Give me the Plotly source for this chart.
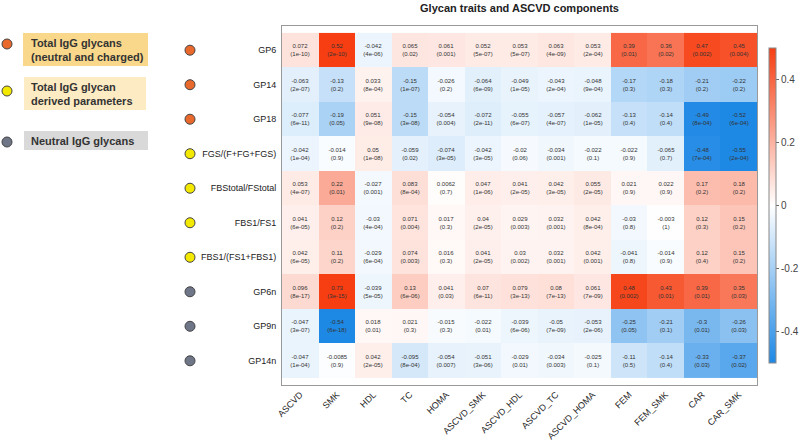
import plotly.graph_objects as go

columns = ["ASCVD", "SMK", "HDL", "TC", "HOMA", "ASCVD_SMK", "ASCVD_HDL",
           "ASCVD_TC", "ASCVD_HOMA", "FEM", "FEM_SMK", "CAR", "CAR_SMK"]
rows = ["GP6", "GP14", "GP18", "FGS/(F+FG+FGS)", "FBStotal/FStotal", "FBS1/FS1",
        "FBS1/(FS1+FBS1)", "GP6n", "GP9n", "GP14n"]
row_groups = ["total", "total", "total", "derived", "derived", "derived",
              "derived", "neutral", "neutral", "neutral"]

corr = [
    [0.072, 0.52, -0.042, 0.065, 0.061, 0.052, 0.053, 0.063, 0.053, 0.39, 0.36, 0.47, 0.45],
    [-0.063, -0.13, 0.033, -0.15, -0.026, -0.064, -0.049, -0.043, -0.048, -0.17, -0.18, -0.21, -0.22],
    [-0.077, -0.19, 0.051, -0.15, -0.054, -0.072, -0.055, -0.057, -0.062, -0.13, -0.14, -0.49, -0.52],
    [-0.042, -0.014, 0.05, -0.059, -0.074, -0.042, -0.02, -0.034, -0.022, -0.022, -0.065, -0.48, -0.55],
    [0.053, 0.22, -0.027, 0.083, 0.0062, 0.047, 0.041, 0.042, 0.055, 0.021, 0.022, 0.17, 0.18],
    [0.041, 0.12, -0.03, 0.071, 0.017, 0.04, 0.029, 0.032, 0.042, -0.03, -0.003, 0.12, 0.15],
    [0.042, 0.11, -0.029, 0.074, 0.016, 0.041, 0.03, 0.032, 0.042, -0.041, -0.014, 0.12, 0.15],
    [0.096, 0.73, -0.039, 0.13, 0.041, 0.07, 0.079, 0.08, 0.061, 0.48, 0.43, 0.39, 0.35],
    [-0.047, -0.54, 0.018, 0.021, -0.015, -0.022, -0.039, -0.05, -0.053, -0.25, -0.21, -0.3, -0.26],
    [-0.047, -0.0085, 0.042, -0.095, -0.054, -0.051, -0.029, -0.034, -0.025, -0.11, -0.14, -0.33, -0.37],
]
pvals = [
    ["1e-10", "2e-10", "4e-06", "0.02", "0.001", "5e-07", "5e-07", "4e-09", "2e-04", "0.01", "0.02", "0.002", "0.004"],
    ["2e-07", "0.2", "8e-04", "1e-07", "0.2", "6e-09", "1e-05", "2e-04", "9e-04", "0.3", "0.3", "0.2", "0.2"],
    ["6e-11", "0.05", "9e-08", "3e-08", "0.004", "2e-11", "6e-07", "4e-07", "1e-05", "0.4", "0.4", "8e-04", "6e-04"],
    ["1e-04", "0.9", "1e-08", "0.02", "3e-05", "3e-05", "0.06", "0.001", "0.1", "0.9", "0.7", "7e-04", "2e-04"],
    ["4e-07", "0.01", "0.001", "8e-04", "0.7", "1e-06", "2e-05", "3e-05", "2e-05", "0.9", "0.9", "0.2", "0.2"],
    ["6e-05", "0.2", "4e-04", "0.004", "0.3", "2e-05", "0.003", "0.001", "8e-04", "0.8", "1", "0.3", "0.2"],
    ["6e-05", "0.2", "6e-04", "0.003", "0.3", "2e-05", "0.002", "0.001", "0.001", "0.8", "0.9", "0.4", "0.2"],
    ["8e-17", "3e-15", "5e-05", "6e-06", "0.03", "6e-11", "3e-13", "7e-13", "7e-09", "0.002", "0.01", "0.01", "0.03"],
    ["3e-07", "6e-18", "0.01", "0.3", "0.3", "0.01", "6e-06", "7e-09", "2e-06", "0.05", "0.1", "0.01", "0.03"],
    ["1e-04", "0.9", "2e-05", "8e-04", "0.007", "3e-06", "0.01", "0.003", "0.1", "0.5", "0.4", "0.03", "0.02"],
]
colorbar_ticks = [-0.4, -0.2, 0, 0.2, 0.4]
legend_labels = ["Total IgG glycans<br>(neutral and charged)",
                 "Total IgG glycan<br>derived parameters",
                 "Neutral IgG glycans"]

W, H = 800, 447
def px(x): return x / W
def py(y): return 1 - y / H

group_color = {"total": "#E9682B", "derived": "#F3E800", "neutral": "#6F7687"}

cell_text = [[f"{v:g}<br>({p})" for v, p in zip(rv, rp)] for rv, rp in zip(corr, pvals)]

fig = go.Figure()
fig.add_trace(go.Heatmap(
    z=corr, x=columns, y=rows, text=cell_text, texttemplate="%{text}",
    textfont=dict(size=6, color="#333333", family="Liberation Sans"),
    zmin=-0.5, zmax=0.5,
    colorscale=[[0, "rgb(30,136,229)"], [0.5, "rgb(255,255,255)"], [1, "rgb(246,62,18)"]],
    xgap=0, ygap=0,
    colorbar=dict(x=px(769), xanchor="left", xpad=0, ypad=0, thickness=7, lenmode="pixels", len=315,
                  y=py(205.5), yanchor="middle", tickvals=colorbar_ticks,
                  ticktext=["-0.4", "-0.2", "0", "0.2", "0.4"],
                  ticks="outside", ticklen=3, tickcolor="#666",
                  tickfont=dict(size=10, color="#444", family="Liberation Sans"),
                  outlinewidth=1, outlinecolor="#888"),
))

fig.add_trace(go.Scatter(
    x=[0] * len(rows), y=rows, mode="markers", xaxis="x2", yaxis="y",
    marker=dict(size=10, color=[group_color[g] for g in row_groups],
                line=dict(color="#444", width=1)),
    hoverinfo="skip", showlegend=False,
))

fig.update_layout(
    width=W, height=H, margin=dict(l=0, r=0, t=0, b=0, autoexpand=False),
    paper_bgcolor="white", plot_bgcolor="white", showlegend=False,
    title=dict(text="<b>Glycan traits and ASCVD components</b>", x=px(519.5), xanchor="center",
               y=py(8), yanchor="middle", font=dict(size=11, color="#222", family="Liberation Sans")),
    xaxis=dict(domain=[px(282), px(757)], tickangle=-45, showgrid=False, zeroline=False,
               showline=True, mirror=True, linecolor="#999", linewidth=1, ticks="",
               automargin=False,
               tickfont=dict(size=9, color="#222", family="Liberation Sans")),
    yaxis=dict(domain=[py(385), py(26)], autorange="reversed", showgrid=False, zeroline=False,
               showline=True, mirror=True, linecolor="#999", linewidth=1, ticks="",
               ticklabelstandoff=3, automargin=False,
               tickfont=dict(size=9, color="#222", family="Liberation Sans")),
    xaxis2=dict(domain=[px(180), px(200)], range=[-1, 1], visible=False),
)

# left legend
boxes = [(23, 148, 33, 66, "#F9D88B"), (24, 146, 77, 110, "#FDEBC3"), (24, 148, 131, 150, "#D9D9D9")]
dots_y = [44, 91, 142]
for (x0, x1, y0, y1, c), dy, lab, g in zip(boxes, dots_y, legend_labels, ["total", "derived", "neutral"]):
    fig.add_shape(type="rect", xref="paper", yref="paper", x0=px(x0), x1=px(x1), y0=py(y1), y1=py(y0),
                  fillcolor=c, line=dict(width=0), layer="below")
    fig.add_shape(type="circle", xref="paper", yref="paper", x0=px(2), x1=px(12),
                  y0=py(dy + 5), y1=py(dy - 5), fillcolor=group_color[g], line=dict(color="#444", width=1))
    fig.add_annotation(text=f"<b>{lab}</b>", xref="paper", yref="paper", x=px(29), y=py((y0 + y1) / 2),
                       xanchor="left", yanchor="middle", showarrow=False, align="left",
                       font=dict(size=11, color="#333", family="Liberation Sans"))

fig.write_html("out.html", config={"displayModeBar": False},
               post_script="document.body.style.margin='0';document.body.style.overflow='hidden';")
